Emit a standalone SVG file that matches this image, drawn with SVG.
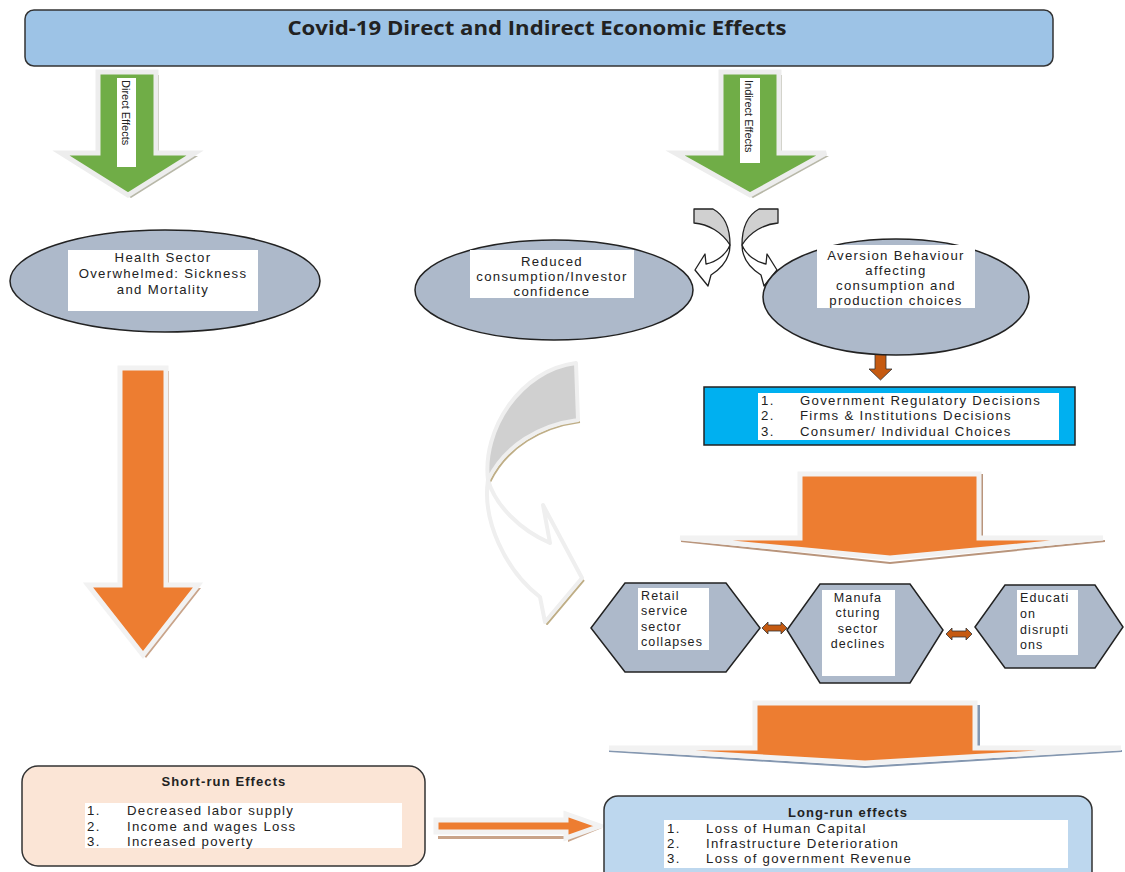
<svg xmlns="http://www.w3.org/2000/svg" width="1125" height="872" viewBox="0 0 1125 872">
<style>
text{font-family:"Liberation Sans",Arial,sans-serif;fill:#222;}
.t{font-size:13.2px;letter-spacing:1.3px;}
.h{font-size:12.5px;letter-spacing:1.1px;}
.c{text-anchor:middle;}
.b{font-weight:bold;}
.hd{font-size:13px;font-weight:bold;letter-spacing:1.1px;text-anchor:middle;}
.ell{fill:#ADB9CA;stroke:#222;stroke-width:1.5;}
.hex{fill:#ADB9CA;stroke:#222;stroke-width:1.5;}
.wb{fill:#fff;}
.shO{fill:#C9A48A;}
.shG{fill:#B8B8A8;}
.or{fill:#ED7D31;stroke:#F2F2F2;stroke-width:5;stroke-linejoin:miter;}
.gr{fill:#70AD47;stroke:#EDEDED;stroke-width:5;}
.dbl{fill:#C55A11;stroke:#333;stroke-width:0.8;}
</style>
<rect width="1125" height="872" fill="#fff"/>

<g id="title">
<rect x="25" y="10" width="1028" height="56" rx="9" fill="#9DC3E6" stroke="#333" stroke-width="1.5"/>
<text x="537" y="35" class="c b" font-size="19" style="font-family:'Open Sans','Liberation Sans',sans-serif" textLength="499" lengthAdjust="spacingAndGlyphs">Covid-19 Direct and Indirect Economic Effects</text>
</g>

<g id="connectors">
<!-- green direct arrow -->
<path class="shG" d="M101,75 L159,75 L159,156 L198,156 L131,198 L64,156 L101,156 Z"/>
<path class="gr" d="M98,72 L156,72 L156,153 L195,153 L128,195 L61,153 L98,153 Z"/>
<rect x="117" y="78" width="19" height="89" class="wb"/>
<text transform="translate(122,80) rotate(90)" font-size="11">Direct Effects</text>
<!-- green indirect arrow -->
<path class="shG" d="M724,75 L782,75 L782,156 L829,156 L753,198 L678,156 L724,156 Z"/>
<path class="gr" d="M721,72 L779,72 L779,153 L826,153 L750,195 L675,153 L721,153 Z"/>
<rect x="740" y="78" width="20" height="85" class="wb"/>
<text transform="translate(745,80) rotate(90)" font-size="11">Indirect Effects</text>

<!-- small curved arrows -->
<g stroke="#222" stroke-width="1.3" stroke-linejoin="round">
<path fill="#D0D0D0" d="M694,209 L713,209 C724,215 730,228 730,245 C722,232 708,224 694,223 Z"/>
<path fill="#fff" d="M730,245 C730,258 722,268 711,275 L708,286 L695,270 L705,254 L706,264 C716,262 726,255 730,245 Z"/>
<path fill="#D0D0D0" d="M778,209 L759,209 C748,215 742,228 742,245 C750,232 764,224 778,223 Z"/>
<path fill="#fff" d="M742,245 C742,258 750,268 761,275 L764,286 L777,270 L767,254 L766,264 C756,262 746,255 742,245 Z"/>
</g>

<!-- big gray curved arrow -->
<g stroke-linejoin="round">
<path fill="none" stroke="#BFAE86" stroke-width="2" transform="translate(2,2)" d="M578,420 C540,425 505,445 488,480 M488,480 C482,520 505,570 540,597 L545,622 L582,578"/>
<path fill="#D0D0D0" stroke="#EFEFEF" stroke-width="4" d="M576,363 L578,420 C540,425 505,445 488,480 C482,430 520,370 576,363 Z"/>
<path fill="#fff" stroke="#EFEFEF" stroke-width="4" d="M488,480 C482,520 505,570 540,597 L545,622 L582,578 L543,505 L550,543 C520,530 495,505 488,480 Z"/>
</g>

<!-- left big orange arrow -->
<path class="shO" d="M123,371 L169,371 L169,588 L201,588 L146,658 L91,588 L123,588 Z"/>
<path class="or" d="M120,368 L166,368 L166,585 L198,585 L143,655 L88,585 L120,585 Z"/>

<!-- small orange arrow -->
<path fill="#C55A11" stroke="#333" stroke-width="0.8" d="M875,352 L886,352 L886,369 L892,369 L880.5,380 L869,369 L875,369 Z"/>

<!-- wide orange arrow 1 -->
<path fill="#B9957C" d="M681,540 L890,562 L1105,540 L1105,542 L890,564 L681,542 Z"/>
<path fill="#B9957C" d="M980,474 L983,474 L983,540 L980,540 Z"/>
<path class="or" d="M800,474 L979,474 L979,538 L1103,538 L890,558 L680,538 L800,538 Z"/>

<!-- wide orange arrow 2 -->
<path fill="#8497B0" d="M609,750 L865,766 L1122,750 L1122,752 L865,768 L609,752 Z"/>
<path fill="#8497B0" d="M977,705 L980,705 L980,750 L977,750 Z"/>
<path class="or" d="M755,703 L975,703 L975,748 L1121,748 L865,763 L609,748 L755,748 Z"/>

<!-- double arrows -->
<path class="dbl" d="M762,628 L768,622 L768,625 L781,625 L781,622 L787,628 L781,634 L781,631 L768,631 L768,634 Z"/>
<path class="dbl" d="M946,634 L952,628 L952,631 L966,631 L966,628 L972,634 L966,640 L966,637 L952,637 L952,640 Z"/>

<!-- short to long arrow -->
<path fill="#C9A48A" d="M438,836 L567,836 L567,832 L602,828 L568,842 L568,839 L438,839 Z"/>
<path class="or" stroke-width="3" d="M436,820 L566,820 L566,814 L600,826 L566,838 L566,832 L436,832 Z"/>
</g>

<g id="health">
<ellipse cx="165" cy="281" rx="155" ry="51" class="ell"/>
<rect x="68" y="250" width="190" height="61" class="wb"/>
<text class="t c" x="163" y="262">Health Sector</text>
<text class="t c" x="163" y="278">Overwhelmed: Sickness</text>
<text class="t c" x="163" y="294">and Mortality</text>
</g>

<g id="reduced">
<ellipse cx="554" cy="290" rx="139" ry="50" class="ell"/>
<rect x="470" y="250" width="164" height="48" class="wb"/>
<text class="t c" x="552" y="266">Reduced</text>
<text class="t c" x="552" y="281">consumption/Investor</text>
<text class="t c" x="552" y="296">confidence</text>
</g>

<g id="aversion">
<ellipse cx="896" cy="297" rx="133" ry="58" class="ell"/>
<rect x="817" y="245" width="158" height="63" class="wb"/>
<text class="t c" x="896" y="260">Aversion Behaviour</text>
<text class="t c" x="896" y="275">affecting</text>
<text class="t c" x="896" y="290">consumption and</text>
<text class="t c" x="896" y="305">production choices</text>
</g>

<g id="decisions">
<rect x="704" y="387" width="371" height="58" fill="#00B0F0" stroke="#222" stroke-width="1.5"/>
<rect x="758" y="393" width="301" height="47" class="wb"/>
<text class="t" x="761" y="405">1.</text><text class="t" x="800" y="405">Government Regulatory Decisions</text>
<text class="t" x="761" y="420">2.</text><text class="t" x="800" y="420">Firms &amp; Institutions Decisions</text>
<text class="t" x="761" y="436">3.</text><text class="t" x="800" y="436">Consumer/ Individual Choices</text>
</g>

<g id="retail">
<polygon class="hex" points="591,628 625,583 726,583 760,628 726,672 625,672"/>
<rect x="638" y="588" width="71" height="62" class="wb"/>
<text class="h" x="641" y="600">Retail</text>
<text class="h" x="641" y="615">service</text>
<text class="h" x="641" y="631">sector</text>
<text class="h" x="641" y="646">collapses</text>
</g>

<g id="manufacturing">
<polygon class="hex" points="787,630 820,584 910,584 943,630 910,683 820,683"/>
<rect x="822" y="590" width="73" height="86" class="wb"/>
<text class="h c" x="858" y="602">Manufa</text>
<text class="h c" x="858" y="617">cturing</text>
<text class="h c" x="858" y="633">sector</text>
<text class="h c" x="858" y="648">declines</text>
</g>

<g id="education">
<polygon class="hex" points="975,627 1005,585 1095,585 1123,627 1095,668 1005,668"/>
<rect x="1017" y="590" width="61" height="65" class="wb"/>
<text class="h" x="1020" y="602">Educati</text>
<text class="h" x="1020" y="618">on</text>
<text class="h" x="1020" y="634">disrupti</text>
<text class="h" x="1020" y="649">ons</text>
</g>

<g id="shortrun">
<rect x="22" y="766" width="403" height="100" rx="16" fill="#FBE5D6" stroke="#333" stroke-width="1.5"/>
<text class="hd" x="224" y="786">Short-run Effects</text>
<rect x="85" y="803" width="317" height="45" class="wb"/>
<text class="t" x="87" y="815">1.</text><text class="t" x="127" y="815">Decreased labor supply</text>
<text class="t" x="87" y="831">2.</text><text class="t" x="127" y="831">Income and wages Loss</text>
<text class="t" x="87" y="846">3.</text><text class="t" x="127" y="846">Increased poverty</text>
</g>

<g id="longrun">
<rect x="604" y="796" width="488" height="90" rx="14" fill="#BDD7EE" stroke="#333" stroke-width="1.5"/>
<text class="hd" x="848" y="817">Long-run effects</text>
<rect x="664" y="820" width="404" height="48" class="wb"/>
<text class="t" x="667" y="833">1.</text><text class="t" x="706" y="833">Loss of Human Capital</text>
<text class="t" x="667" y="848">2.</text><text class="t" x="706" y="848">Infrastructure Deterioration</text>
<text class="t" x="667" y="863">3.</text><text class="t" x="706" y="863">Loss of government Revenue</text>
</g>
</svg>
